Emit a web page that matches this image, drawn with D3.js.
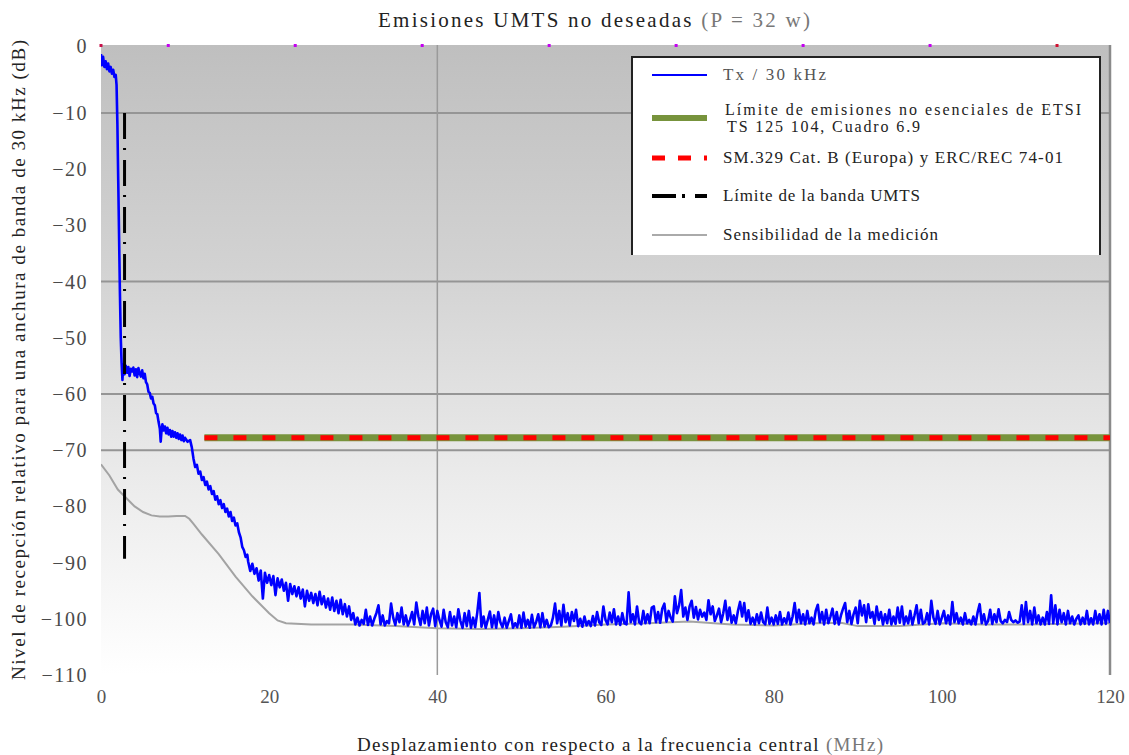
<!DOCTYPE html>
<html>
<head>
<meta charset="utf-8">
<script src="https://cdn.jsdelivr.net/npm/d3@7"></script>
<style>
  body { margin: 0; background: #fff; }
  svg { display: block; }
  svg text { font-family: 'Liberation Serif', serif; }
</style>
</head>
<body>
<svg id="chart" width="1129" height="755"></svg>
<script>
// axis values
const xTicks = [0, 20, 40, 60, 80, 100, 120];
const yTicks = [0, -10, -20, -30, -40, -50, -60, -70, -80, -90, -100, -110];
const gridY = [-10, -40, -60, -70];
const gridX = [40];
const topMarks = [0, 8, 23.1, 38.2, 53.3, 68.4, 83.5, 98.6, 113.7];

// limit lines
const etsiLimit = [[12.3, -67.8], [120, -67.8]];
const bandEdge = [[2.8, -10], [2.8, -89.3]];

// measurement sensitivity (MHz, dB)
const sensitivity = [
  [0, -72.5], [1, -74.5], [2, -77], [3, -78.5], [4, -80], [5, -81], [6, -81.6], [7, -81.8],
  [8, -81.8], [9, -81.7], [10, -81.7], [10.5, -82.2], [11, -83.1], [12, -85], [14, -88.5],
  [16, -92.5], [18, -96], [20, -99], [21, -100.3], [22, -100.8], [25, -101], [30, -101],
  [35, -101.3], [40, -101.7], [45, -101.8], [50, -101.7], [55, -101.4], [60, -101],
  [65, -100.8], [70, -100.5], [75, -101], [80, -101.2], [85, -100.8], [88, -100.7],
  [90, -101.3], [95, -101.3], [100, -100.8], [105, -101], [110, -101], [115, -100.9], [120, -100.8]
];

// Tx / 30 kHz, near carrier (MHz, dB)
const txFront = [
  [0, 0.5], [0.1, -1.5], [0.25, 0], [0.4, -1.8], [0.55, -0.8], [0.7, -2.2], [0.85, -1.2],
  [1.0, -2.6], [1.15, -1.8], [1.3, -3.0], [1.45, -2.3], [1.6, -3.6], [1.75, -3.2], [1.85, -5.0],
  [1.95, -12], [2.05, -22], [2.15, -32], [2.25, -42], [2.35, -50], [2.45, -54.5], [2.55, -57.5],
  [2.65, -54.8], [2.8, -56.5], [2.95, -55.0], [3.1, -56.2], [3.25, -55.2], [3.4, -56.8],
  [3.55, -55.5], [3.7, -56.0], [3.85, -55.3], [4.0, -56.7], [4.15, -55.6], [4.3, -57.0],
  [4.45, -55.4], [4.6, -56.3], [4.75, -56.9], [4.9, -55.8], [5.05, -57.2], [5.2, -56.4],
  [5.35, -57.9], [5.5, -58.3], [5.65, -59.6], [5.8, -59.8], [5.95, -60.8], [6.1, -60.5],
  [6.25, -61.7], [6.4, -62.0], [6.55, -63.4], [6.7, -63.6], [6.85, -65.0], [7.0, -66.2],
  [7.1, -68.5], [7.2, -66.5], [7.3, -65.4], [7.45, -66.5], [7.6, -65.8], [7.75, -67.0],
  [7.9, -66.0], [8.05, -67.2], [8.2, -66.4], [8.35, -67.6], [8.5, -66.6], [8.65, -67.6],
  [8.8, -66.8], [8.95, -67.8], [9.1, -67.0], [9.25, -68.0], [9.4, -67.2], [9.55, -68.2],
  [9.7, -67.4], [9.85, -68.4], [10.0, -67.8], [10.3, -68.5], [10.6, -68.2], [10.8, -69.5],
  [11.0, -71.5], [11.2, -73.0], [11.4, -72.6], [11.6, -74.2], [11.8, -73.8], [12.0, -75.3],
  [12.2, -74.8], [12.4, -76.2], [12.6, -75.6], [12.8, -77.0], [13.0, -76.4], [13.2, -77.8],
  [13.4, -77.3], [13.6, -78.8], [13.8, -78.2], [14.0, -79.6], [14.2, -78.9], [14.4, -80.3],
  [14.6, -79.6], [14.8, -81.0], [15.0, -80.4], [15.2, -81.8], [15.4, -81.0], [15.6, -82.6],
  [15.8, -82.0], [16.0, -83.4], [16.2, -83.0], [16.4, -84.6], [16.6, -85.5], [16.8, -87.2],
  [17.0, -87.8], [17.2, -89.0], [17.4, -88.6]
];

// Tx / 30 kHz, far region sampled every 0.25 MHz from 17.5 MHz (dB)
const txNoiseStart = 17.5;
const txNoiseStep = 0.25;
const txNoise = [
  -89.8, -91.5, -90.2, -92.0, -91.0, -93.2, -91.4, -96.4,
  -91.8, -93.6, -92.2, -94.0, -92.4, -95.8, -92.8, -94.4,
  -93.0, -95.0, -93.6, -96.8, -93.8, -95.6, -94.2, -96.0,
  -94.4, -96.4, -94.8, -97.8, -95.0, -96.8, -95.4, -97.2,
  -95.6, -97.6, -95.2, -97.4, -96.0, -98.0, -96.4, -98.4,
  -96.2, -98.6, -96.8, -99.0, -96.6, -99.2, -97.4, -99.6,
  -97.8, -100.2, -99.0,
  -101.0, -99.8, -101.2, -100.2, -100.9, -98.4, -101.1, -99.6,
  -101.2, -100.0, -99.0, -97.6, -101.0, -99.4, -101.2, -100.4,
  -100.8, -97.3, -99.8, -101.1, -99.0, -100.6, -98.0, -101.0,
  -99.4, -101.2, -100.2, -98.8, -101.0, -97.1, -99.6, -101.1,
  -98.6, -100.8, -98.0, -101.2, -99.2, -98.2, -101.3, -98.6,
  -100.2, -101.4, -98.4, -100.6, -101.5, -98.8, -101.2, -99.6,
  -101.5, -98.3, -100.4, -101.6, -99.0, -101.3, -98.6, -101.6,
  -99.8, -101.5, -98.9, -95.4, -101.4, -99.6, -101.6, -100.2,
  -98.7, -101.5, -99.4, -101.6, -98.8, -100.6, -101.5, -99.8,
  -101.6, -100.4, -99.2, -101.6, -100.8, -101.5, -99.4, -101.6,
  -98.9, -101.4, -100.2, -101.6, -99.3, -101.5, -100.6, -99.2,
  -101.5, -99.0, -101.4, -100.2, -101.5, -101.2, -99.8, -97.3,
  -100.8, -98.6, -101.2, -97.5, -100.6, -99.0, -101.2, -98.8,
  -100.4, -98.4, -101.3, -100.0, -101.4, -99.6, -101.2, -100.4,
  -101.3, -99.5, -101.2, -98.8, -100.6, -101.1, -97.8, -100.2,
  -101.0, -98.9, -100.6, -98.3, -101.0, -99.6, -101.1, -99.0,
  -100.8, -101.0, -95.3, -100.6, -99.2, -101.0, -97.8, -100.6,
  -101.0, -98.6, -100.8, -99.2, -100.8, -98.0, -97.8, -100.6,
  -98.8, -100.7, -98.2, -97.3, -100.5, -98.6, -99.8, -100.5,
  -96.0, -99.0, -97.6, -94.9, -99.6, -98.0, -100.2, -97.8,
  -96.8, -99.8, -97.9, -100.1, -98.4, -99.6, -98.9, -100.2,
  -96.7, -99.2, -97.8, -100.4, -99.4, -98.2, -100.6, -99.0,
  -96.8, -100.2, -98.0, -100.7, -99.4, -100.8, -98.6, -97.0,
  -99.6, -97.2, -100.4, -98.5, -100.9, -99.8, -101.0, -99.2,
  -100.8, -98.9, -100.6, -101.0, -98.0, -100.9, -99.8, -101.0,
  -99.4, -100.9, -98.8, -101.0, -99.9, -100.8, -98.9, -101.0,
  -99.6, -97.2, -100.6, -98.4, -100.8, -99.2, -101.0, -98.6,
  -100.8, -99.8, -101.0, -98.6, -97.5, -100.6, -98.8, -101.0,
  -98.4, -100.8, -99.6, -98.2, -100.9, -98.8, -101.0, -99.4,
  -98.2, -97.2, -100.6, -98.6, -100.9, -99.2, -98.0, -100.8,
  -96.8, -99.4, -97.6, -100.6, -97.4, -99.8, -98.8, -100.9,
  -97.8, -100.2, -98.8, -101.0, -99.2, -100.8, -98.4, -101.0,
  -99.6, -100.9, -98.0, -100.7, -97.8, -101.0, -99.6, -100.8,
  -98.6, -101.0, -99.4, -97.6, -100.8, -98.4, -100.9, -100.6,
  -99.0, -101.0, -96.8, -99.8, -100.9, -98.6, -101.0, -99.8,
  -98.6, -100.8, -99.4, -101.0, -97.0, -100.6, -99.0, -100.8,
  -99.8, -101.0, -99.0, -100.8, -100.2, -101.0, -99.6, -101.0,
  -98.9, -97.4, -100.8, -99.2, -101.0, -100.4, -98.4, -100.9,
  -99.2, -100.6, -98.3, -100.4, -100.8, -100.2, -100.6, -98.8,
  -100.2, -100.6, -100.3, -100.7, -100.5, -97.6, -100.9, -97.0,
  -100.6, -98.6, -101.0, -98.0, -100.8, -99.4, -101.0, -99.8,
  -101.0, -98.8, -100.9, -95.8, -100.8, -97.6, -101.0, -98.4,
  -100.6, -99.0, -101.0, -98.6, -100.8, -99.6, -101.0, -100.0,
  -99.4, -101.0, -99.8, -100.9, -98.6, -101.0, -99.9, -101.0,
  -98.6, -100.8, -99.2, -101.0, -98.4, -100.9, -98.6, -100.8
];

const legendItems = [
  { key: 'tx', lines: ['Tx / 30 kHz'], widths: [103] },
  { key: 'etsi', lines: ['Límite de emisiones no esenciales de ETSI', 'TS 125 104, Cuadro 6.9'], widths: [356, 193] },
  { key: 'sm', lines: ['SM.329 Cat. B (Europa) y ERC/REC 74-01'], widths: [340] },
  { key: 'band', lines: ['Límite de la banda UMTS'], widths: [197] },
  { key: 'sens', lines: ['Sensibilidad de la medición'], widths: [215] }
];

const svg = d3.select('#chart');
const plot = { left: 101, right: 1110, top: 45, bottom: 675 };

const x = d3.scaleLinear().domain([0, 120]).range([plot.left, plot.right]);
const y = d3.scaleLinear().domain([-110, 2.1]).range([plot.bottom, plot.top]);

const defs = svg.append('defs');
const grad = defs.append('linearGradient')
  .attr('id', 'bg')
  .attr('x1', 0).attr('y1', 0).attr('x2', 0).attr('y2', 1);
grad.append('stop').attr('offset', '0%').attr('stop-color', '#bfbfbf');
grad.append('stop').attr('offset', '35%').attr('stop-color', '#d2d2d2');
grad.append('stop').attr('offset', '70%').attr('stop-color', '#ececec');
grad.append('stop').attr('offset', '100%').attr('stop-color', '#ffffff');

defs.append('clipPath').attr('id', 'clip')
  .append('rect')
  .attr('x', plot.left).attr('y', plot.top)
  .attr('width', plot.right - plot.left).attr('height', plot.bottom - plot.top);

svg.append('rect')
  .attr('x', plot.left).attr('y', plot.top)
  .attr('width', plot.right - plot.left).attr('height', plot.bottom - plot.top)
  .attr('fill', 'url(#bg)');

// grid
svg.selectAll('.gy')
  .data(gridY)
  .enter()
  .append('line')
  .attr('x1', plot.left).attr('x2', plot.right)
  .attr('y1', d => y(d)).attr('y2', d => y(d))
  .attr('stroke', '#959595')
  .attr('stroke-width', 2);

svg.selectAll('.gx')
  .data(gridX)
  .enter()
  .append('line')
  .attr('x1', d => x(d)).attr('x2', d => x(d))
  .attr('y1', plot.top).attr('y2', plot.bottom)
  .attr('stroke', '#9a9a9a')
  .attr('stroke-width', 1.5);

svg.append('line')
  .attr('x1', x(120)).attr('x2', x(120))
  .attr('y1', plot.top).attr('y2', plot.bottom)
  .attr('stroke', '#8a8a8a')
  .attr('stroke-width', 2.5);

svg.selectAll('.mark')
  .data(topMarks)
  .enter()
  .append('rect')
  .attr('x', d => x(d) - 1.5)
  .attr('y', plot.top - 1)
  .attr('width', 3).attr('height', 3)
  .attr('fill', (d, i) => (i === 0 ? '#c8104a' : i === topMarks.length - 1 ? '#d01030' : '#c400f0'));

const line = d3.line().x(d => x(d[0])).y(d => y(d[1]));
const g = svg.append('g').attr('clip-path', 'url(#clip)');

g.append('path')
  .datum(sensitivity)
  .attr('fill', 'none')
  .attr('stroke', '#a3a3a3')
  .attr('stroke-width', 2)
  .attr('d', line);

g.append('path')
  .datum(etsiLimit)
  .attr('fill', 'none')
  .attr('stroke', '#77933c')
  .attr('stroke-width', 7)
  .attr('d', line);

g.append('path')
  .datum(etsiLimit)
  .attr('fill', 'none')
  .attr('stroke', '#ff0000')
  .attr('stroke-width', 5)
  .attr('stroke-dasharray', '13,16')
  .attr('d', line);

const txTrace = txFront.concat(txNoise.map((v, i) => [txNoiseStart + i * txNoiseStep, v]));

g.append('path')
  .datum(txTrace)
  .attr('fill', 'none')
  .attr('stroke', '#0000ff')
  .attr('stroke-width', 2.6)
  .attr('stroke-linejoin', 'round')
  .attr('d', line);

g.append('path')
  .datum(bandEdge)
  .attr('fill', 'none')
  .attr('stroke', '#000')
  .attr('stroke-width', 3)
  .attr('stroke-dasharray', '26,9,2,10')
  .attr('d', line);

// axes
const yAxis = svg.append('g')
  .attr('transform', `translate(${plot.left},0)`)
  .call(d3.axisLeft(y).tickValues(yTicks).tickSize(0).tickPadding(13));
yAxis.select('.domain').remove();
yAxis.selectAll('.tick')
  .filter(d => d === 0)
  .attr('transform', `translate(0,${plot.top + 2})`);
yAxis.selectAll('text')
  .attr('font-size', 20)
  .attr('letter-spacing', 1.5)
  .attr('fill', '#4a4a4a');

const xAxis = svg.append('g')
  .attr('transform', `translate(0,${plot.bottom})`)
  .call(d3.axisBottom(x).tickValues(xTicks).tickSize(0).tickPadding(15));
xAxis.select('.domain').remove();
xAxis.selectAll('text')
  .attr('font-size', 19)
  .attr('fill', '#555');

// titles
const title = svg.append('text')
  .attr('x', 594).attr('y', 27)
  .attr('text-anchor', 'middle')
  .attr('font-size', 21)
  .attr('textLength', 432)
  .attr('lengthAdjust', 'spacing')
  .attr('fill', '#222');
title.append('tspan').text('Emisiones UMTS no deseadas ');
title.append('tspan').attr('fill', '#777').text('(P = 32 w)');

const xTitle = svg.append('text')
  .attr('x', 620).attr('y', 751)
  .attr('text-anchor', 'middle')
  .attr('font-size', 19)
  .attr('textLength', 526)
  .attr('lengthAdjust', 'spacing')
  .attr('fill', '#222');
xTitle.append('tspan').text('Desplazamiento con respecto a la frecuencia central ');
xTitle.append('tspan').attr('fill', '#777').text('(MHz)');

svg.append('text')
  .attr('transform', 'translate(25,360) rotate(-90)')
  .attr('text-anchor', 'middle')
  .attr('font-size', 19)
  .attr('textLength', 640)
  .attr('lengthAdjust', 'spacing')
  .attr('fill', '#222')
  .text('Nivel de recepción relativo para una anchura de banda de 30 kHz (dB)');

// legend
const legend = svg.append('g');
legend.append('rect')
  .attr('x', 632).attr('y', 57)
  .attr('width', 468).attr('height', 198)
  .attr('fill', '#fff');
legend.append('path')
  .attr('d', 'M632,255V57H1100V255')
  .attr('fill', 'none')
  .attr('stroke', '#222')
  .attr('stroke-width', 2);

const rowY = [75, 118, 158, 196, 235];
const sampleStyle = {
  tx: { stroke: '#0000ff', width: 2, dash: null },
  etsi: { stroke: '#77933c', width: 6, dash: null },
  sm: { stroke: '#ff0000', width: 5, dash: '13,13' },
  band: { stroke: '#000', width: 4, dash: '24,6,3,10,12' },
  sens: { stroke: '#aaa', width: 2, dash: null }
};

legendItems.forEach((item, i) => {
  const st = sampleStyle[item.key];
  const ly = rowY[i];
  const sample = legend.append('line')
    .attr('x1', 652).attr('x2', 707)
    .attr('y1', ly).attr('y2', ly)
    .attr('stroke', st.stroke)
    .attr('stroke-width', st.width);
  if (st.dash) sample.attr('stroke-dasharray', st.dash);

  const multi = item.lines.length > 1;
  item.lines.forEach((s, j) => {
    legend.append('text')
      .attr('x', multi ? (j === 0 ? 725 : 727) : 723)
      .attr('y', multi ? ly - 3 + j * 17 : ly + 5)
      .attr('font-size', multi ? 16 : 17)
      .attr('textLength', item.widths[j])
      .attr('lengthAdjust', 'spacing')
      .attr('fill', i === 0 ? '#555' : '#222')
      .text(s);
  });
});
</script>
</body>
</html>
